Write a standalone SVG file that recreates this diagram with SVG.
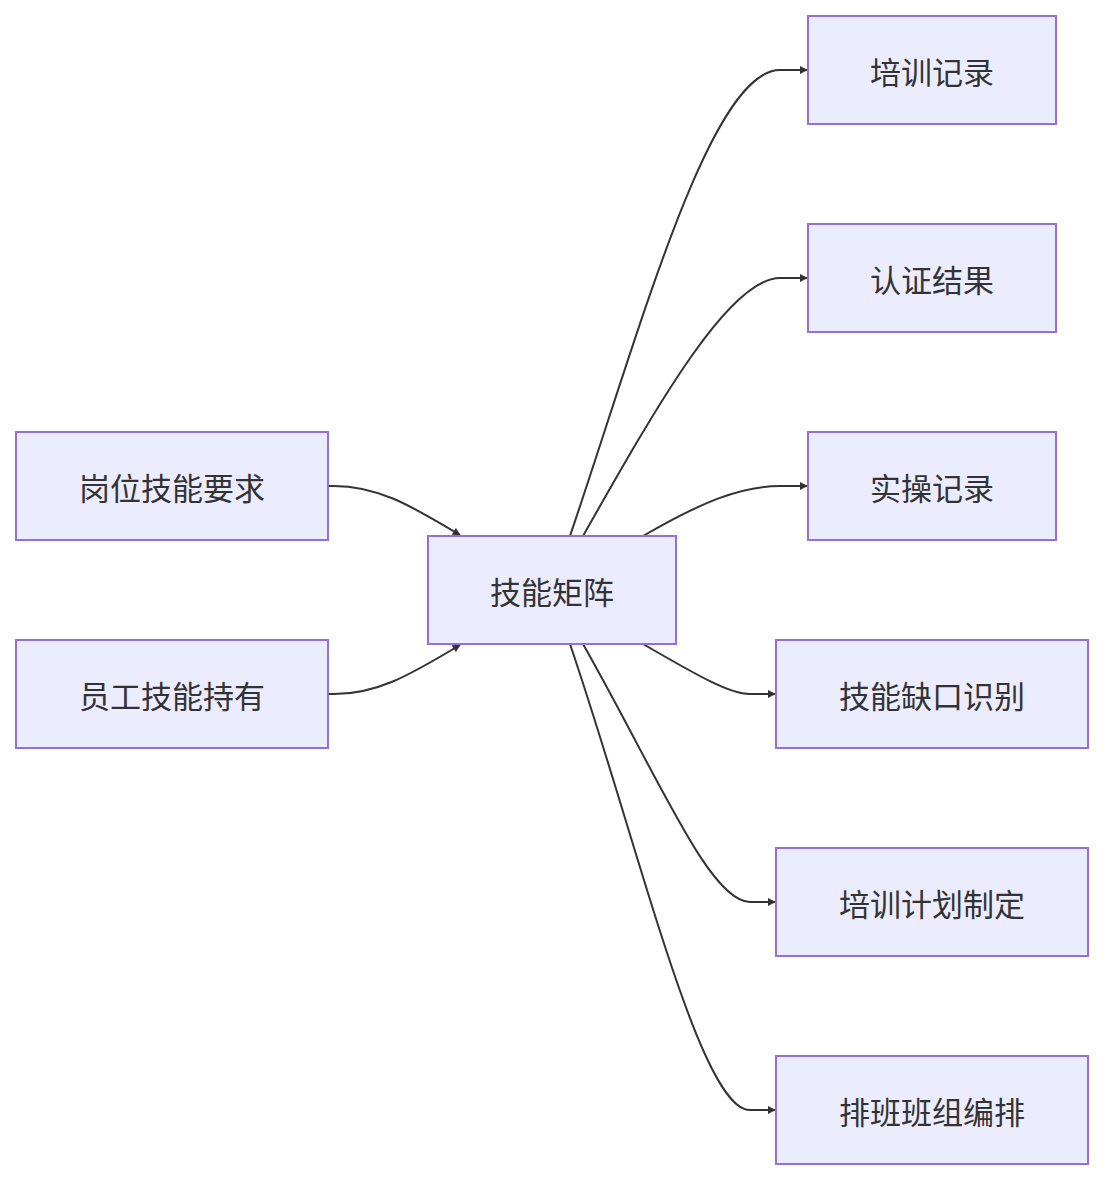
<svg xmlns="http://www.w3.org/2000/svg" width="1104" height="1180" viewBox="0 0 1104 1180">
<style>
.n rect{fill:#ECECFF;stroke:#9370DB;stroke-width:2}
.n text{font-family:"Noto Sans CJK SC",sans-serif;font-size:31px;fill:#333;text-anchor:middle;dominant-baseline:central}
.e path{fill:none;stroke:#333;stroke-width:2;marker-end:url(#a)}
</style>
<defs><marker id="a" viewBox="0 0 10 10" refX="9" refY="5" markerWidth="8" markerHeight="8" markerUnits="userSpaceOnUse" orient="auto"><path d="M0,0L10,5L0,10z" fill="#333"/></marker></defs>
<rect width="1104" height="1180" fill="#fff"/>
<g class="e">
<path d="M328,486 C375,484 410,505 460,535"/>
<path d="M328,694 C375,696 410,675 460,645"/>
<path d="M570,536 C640,330 710,70 780,70 L807,70"/>
<path d="M583,536 C660,400 730,278 780,278 L807,278"/>
<path d="M643,536 C700,503 740,486 780,486 L807,486"/>
<path d="M643,644 C700,677 730,694 750,694 L775,694"/>
<path d="M583,644 C660,780 710,902 750,902 L775,902"/>
<path d="M570,644 C640,850 700,1110 750,1110 L775,1110"/>
</g>
<g id="n1" class="n"><rect x="16" y="432" width="312" height="108"/><text x="172" y="486">岗位技能要求</text></g>
<g id="n2" class="n"><rect x="16" y="640" width="312" height="108"/><text x="172" y="694">员工技能持有</text></g>
<g id="n3" class="n"><rect x="428" y="536" width="248" height="108"/><text x="552" y="590">技能矩阵</text></g>
<g id="n4" class="n"><rect x="808" y="16" width="248" height="108"/><text x="932" y="70">培训记录</text></g>
<g id="n5" class="n"><rect x="808" y="224" width="248" height="108"/><text x="932" y="278">认证结果</text></g>
<g id="n6" class="n"><rect x="808" y="432" width="248" height="108"/><text x="932" y="486">实操记录</text></g>
<g id="n7" class="n"><rect x="776" y="640" width="312" height="108"/><text x="932" y="694">技能缺口识别</text></g>
<g id="n8" class="n"><rect x="776" y="848" width="312" height="108"/><text x="932" y="902">培训计划制定</text></g>
<g id="n9" class="n"><rect x="776" y="1056" width="312" height="108"/><text x="932" y="1110">排班班组编排</text></g>
</svg>
